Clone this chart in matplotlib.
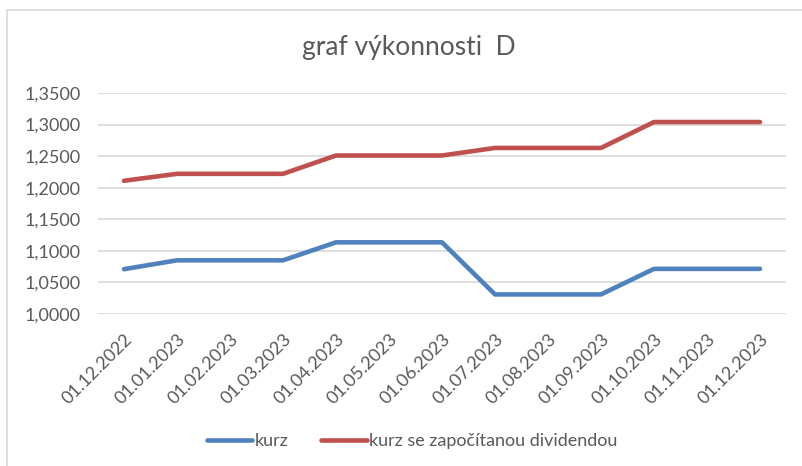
import numpy as np
import matplotlib.pyplot as plt
import matplotlib.patches as mpatches
from matplotlib.ticker import FuncFormatter

# data
dates = ['01.12.2022', '01.01.2023', '01.02.2023', '01.03.2023', '01.04.2023',
         '01.05.2023', '01.06.2023', '01.07.2023', '01.08.2023', '01.09.2023',
         '01.10.2023', '01.11.2023', '01.12.2023']
kurz = [1.071, 1.085, 1.085, 1.085, 1.1135, 1.1135, 1.1135,
        1.031, 1.031, 1.031, 1.0715, 1.0715, 1.0715]
kurz_div = [1.211, 1.222, 1.222, 1.222, 1.251, 1.251, 1.251,
            1.263, 1.263, 1.263, 1.304, 1.304, 1.304]
series_names = ['kurz', 'kurz se započítanou dividendou']

plt.rcParams['font.family'] = ['Lato', 'DejaVu Sans']
txt_col = '#595959'

fig = plt.figure(figsize=(8.02, 4.66), dpi=100)
fig.patch.set_facecolor('white')

# chart area border (Excel style)
fig.patches.append(mpatches.Rectangle((7 / 802, -0.02), 1.0, 1 - 10 / 466 + 0.02,
                                      transform=fig.transFigure, fill=False,
                                      edgecolor='#D9D9D9', linewidth=1.2))

ax = fig.add_axes([97.5 / 802, 1 - 314 / 466, 689 / 802, 221 / 466])
x = np.arange(len(dates))
ax.plot(x, kurz, color='#4F81BD', linewidth=3.3, solid_capstyle='round',
        solid_joinstyle='round', label=series_names[0])
ax.plot(x, kurz_div, color='#C0504D', linewidth=3.3, solid_capstyle='round',
        solid_joinstyle='round', label=series_names[1])

ax.set_xlim(-0.5, len(dates) - 0.5)
ax.set_ylim(1.0, 1.35)
ax.set_yticks(np.arange(1.0, 1.3501, 0.05))
ax.yaxis.set_major_formatter(FuncFormatter(lambda v, p: f'{v:.4f}'.replace('.', ',')))
ax.grid(axis='y', color='#D9D9D9', linewidth=1.2)
ax.set_axisbelow(True)
for s in ax.spines.values():
    s.set_visible(False)
ax.tick_params(axis='y', length=0, pad=12, labelsize=13, labelcolor=txt_col)
ax.set_xticks(x)
ax.set_xticklabels(dates, rotation=45, ha='right', rotation_mode='anchor')
ax.tick_params(axis='x', length=0, pad=12, labelsize=13, labelcolor=txt_col)

fig.text(408.5 / 802, 1 - 47 / 466, 'graf výkonnosti  D', ha='center', va='center',
         fontsize=19, color=txt_col)

leg = fig.legend(loc='center', bbox_to_anchor=(412.5 / 802, 1 - 441 / 466), ncol=2,
                 frameon=False, fontsize=13, handlelength=2.5, handletextpad=0.15,
                 columnspacing=1.8)
for t in leg.get_texts():
    t.set_color(txt_col)

fig.savefig('out.png', dpi=100)
